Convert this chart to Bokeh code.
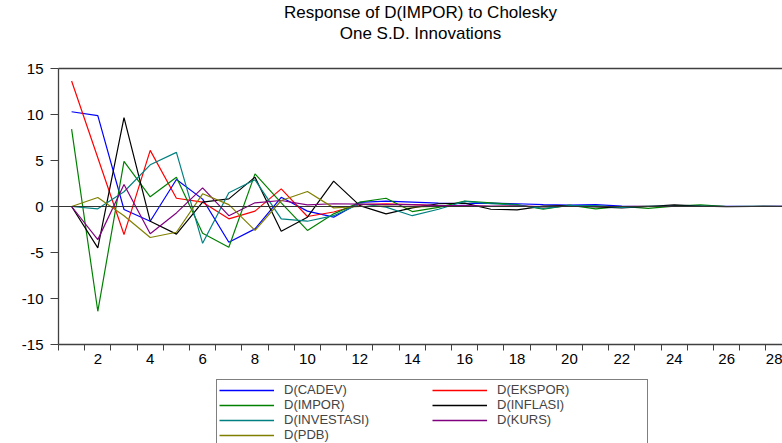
from bokeh.plotting import figure
from bokeh.layouts import column
from bokeh.models import (ColumnDataSource, Legend, LegendItem, FixedTicker, LinearAxis,
                          Span, Range1d, Title)
from bokeh.embed import file_html
from bokeh.resources import INLINE

periods = list(range(1, 31))

cadev = [10.3, 9.87, -0.33, -1.6, 2.94, 0.8, -3.88, -2.43, 1.0, -0.5,
         -1.16, 0.45, 0.58, 0.47, 0.36, 0.3, 0.36, 0.3, 0.2, 0.15,
         0.2, 0.05, 0.0, 0.05, 0.0, 0.02, 0.02, 0.01, 0.0, 0.0]
ekspor = [13.64, 5.3, -3.05, 6.1, 0.9, 0.47, -1.34, -0.5, 1.92, -1.09,
          -0.6, 0.2, 0.3, 0.2, 0.1, 0.07, 0.0, 0.05, -0.05, 0.05,
          0.0, -0.02, 0.02, 0.0, 0.01, 0.0, 0.0, 0.0, 0.0, 0.0]
impor = [8.41, -11.39, 4.9, 1.05, 3.19, -2.9, -4.43, 3.55, 0.4, -2.6,
         -0.8, 0.47, 0.9, -0.55, -0.1, 0.58, 0.4, 0.2, -0.3, 0.15,
         -0.25, 0.0, -0.2, 0.05, 0.18, 0.0, 0.02, 0.0, 0.0, 0.0]
inflasi = [0.0, -4.5, 9.65, -1.6, -3.0, 0.47, 0.83, 3.19, -2.68, -1.16,
           2.76, 0.1, -0.8, -0.15, 0.3, 0.36, -0.3, -0.36, 0.05, 0.1,
           -0.05, -0.15, 0.0, 0.18, 0.05, -0.02, 0.0, 0.02, 0.0, 0.0]
investasi = [0.0, -0.25, 1.6, 4.53, 5.88, -4.0, 1.49, 2.9, -1.34, -1.6,
             -1.0, 0.3, -0.07, -1.0, -0.3, 0.55, 0.3, 0.15, -0.2, 0.1,
             0.1, -0.1, 0.05, 0.0, 0.05, 0.0, 0.0, 0.0, 0.0, 0.0]
kurs = [0.0, -3.6, 2.4, -2.97, -0.7, 2.03, -1.0, 0.4, 0.65, 0.18,
        0.3, 0.25, 0.2, 0.2, 0.1, 0.1, 0.05, 0.05, 0.0, 0.0,
        0.0, 0.0, 0.0, 0.0, 0.0, 0.0, 0.0, 0.0, 0.0, 0.0]
pdb = [0.0, 0.98, -1.0, -3.37, -2.8, 1.38, 0.2, -2.6, 0.65, 1.63,
       -0.15, 0.0, 0.05, -0.05, 0.0, 0.0, 0.0, 0.0, 0.0, 0.0,
       0.0, 0.0, 0.0, 0.0, 0.0, 0.0, 0.0, 0.0, 0.0, 0.0]

series_names = ["D(CADEV)", "D(EKSPOR)", "D(IMPOR)", "D(INFLASI)",
                "D(INVESTASI)", "D(KURS)", "D(PDB)"]
series_values = [cadev, ekspor, impor, inflasi, investasi, kurs, pdb]
series_colors = ["#0000FF", "#FF0000", "#008000", "#000000",
                 "#008080", "#800080", "#808000"]

x_ticks = list(range(2, 31, 2))
y_ticks = [-15, -10, -5, 0, 5, 10, 15]
title_lines = ["Response of D(IMPOR) to Cholesky", "One S.D. Innovations"]

FONT = "Liberation Sans"
AX = "#404040"
W = 782
LEFT = 58
H_TOP = 60
H_MAIN = 315
H_LEG = 443 - H_TOP - H_MAIN


def strip(height, left):
    f = figure(width=W, height=height, output_backend="svg", toolbar_location=None,
               title=None, min_border_left=left, min_border_right=0,
               min_border_top=0, min_border_bottom=0,
               x_axis_type=None, y_axis_type=None)
    f.outline_line_color = None
    f.xgrid.visible = False
    f.ygrid.visible = False
    f.border_fill_color = "white"
    f.background_fill_color = "white"
    return f


# ---- title strip: two centred title lines ----
pt = strip(H_TOP, LEFT)
pt.x_range = Range1d(0, 1)
pt.y_range = Range1d(0, 1)
pt.add_layout(Title(text=title_lines[1], align="center", text_font=FONT,
                    text_font_size="17px", text_font_style="normal",
                    text_color="black", standoff=0), "above")
pt.add_layout(Title(text=title_lines[0], align="center", text_font=FONT,
                    text_font_size="17px", text_font_style="normal",
                    text_color="black", standoff=0), "above")

# ---- main chart ----
p = figure(width=W, height=H_MAIN, output_backend="svg", toolbar_location=None,
           title=None,
           x_range=Range1d(0.5, 28.13), y_range=Range1d(-15, 15),
           min_border_left=LEFT, min_border_right=0, min_border_top=8,
           min_border_bottom=31)
p.outline_line_color = None
p.xgrid.visible = False
p.ygrid.visible = False
p.background_fill_color = "white"
p.border_fill_color = "white"

src = ColumnDataSource(dict(x=periods, **{f"s{i}": v for i, v in enumerate(series_values)}))

p.add_layout(Span(location=0, dimension="width", line_color="#333333", line_width=1))

for i, col in enumerate(series_colors):
    p.line("x", f"s{i}", source=src, line_color=col, line_width=1.2)

xa = p.xaxis[0]
xa.ticker = FixedTicker(ticks=x_ticks, minor_ticks=[i + 0.5 for i in range(0, 30)])
xa.major_tick_out = 0
xa.major_tick_in = 0
xa.minor_tick_out = 6
xa.minor_tick_in = 0
xa.major_label_standoff = 3
ya = p.yaxis[0]
ya.ticker = FixedTicker(ticks=y_ticks)
ya.major_tick_out = 8
ya.major_tick_in = 0
ya.major_label_standoff = 7
ya.major_label_overrides = {t: str(t) for t in y_ticks}
for ax in (xa, ya):
    ax.axis_line_color = AX
    ax.axis_line_width = 1.3
    ax.major_tick_line_color = AX
    ax.major_label_text_font = FONT
    ax.major_label_text_font_size = "15px"
    ax.major_label_text_color = "black"
xa.minor_tick_line_color = AX
ya.minor_tick_line_color = None

top = LinearAxis(ticker=FixedTicker(ticks=[]), axis_line_color=AX, axis_line_width=1.3,
                 major_tick_line_color=None, minor_tick_line_color=None,
                 major_tick_out=0, major_label_standoff=0,
                 major_label_text_font_size="0px")
p.add_layout(top, "above")

# ---- legend strip ----
pl = strip(H_LEG, LEFT)
pl.x_range = Range1d(0, 1)
pl.y_range = Range1d(0, 1)
leg_r = {}
for name, col in zip(series_names, series_colors):
    leg_r[name] = pl.line(x=[5, 6], y=[5, 6], line_color=col, line_width=1.5)

# column-major fill: first column top-to-bottom, then second column
order = ["D(CADEV)", "D(IMPOR)", "D(INVESTASI)", "D(PDB)",
         "D(EKSPOR)", "D(INFLASI)", "D(KURS)"]
items = [LegendItem(label=n, renderers=[leg_r[n]]) for n in order]
legend = Legend(items=items, ncols=2, location=(216 - LEFT, -2),
                label_text_font=FONT, label_text_font_size="13px",
                glyph_width=55, glyph_height=14, label_height=14,
                label_standoff=10, label_width=148, spacing=0, padding=2,
                margin=0, border_line_color="black", border_line_width=1,
                background_fill_color="white", background_fill_alpha=1.0)
pl.add_layout(legend, "center")

layout = column(pt, p, pl, spacing=0)
open("out.html", "w").write(file_html(layout, INLINE))
